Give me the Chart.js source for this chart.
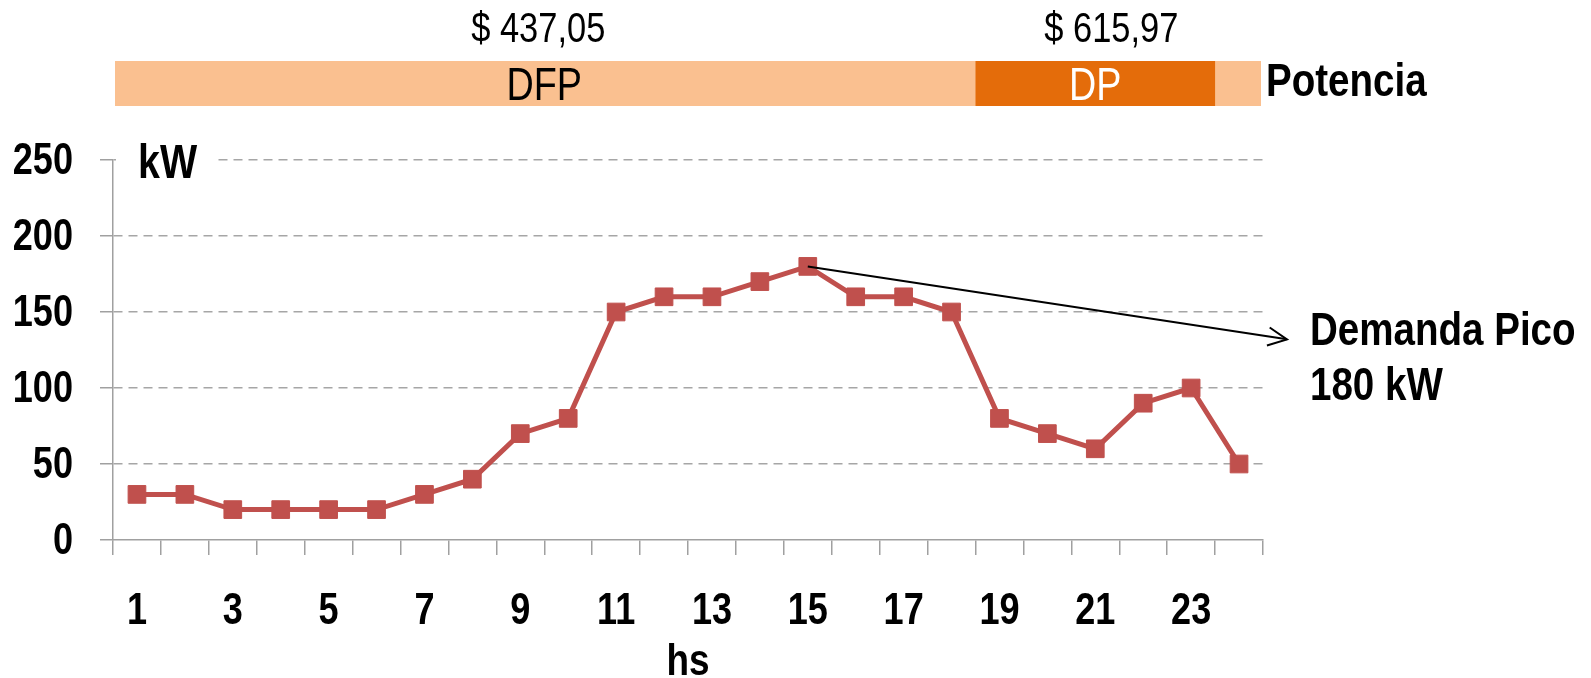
<!DOCTYPE html>
<html>
<head>
<meta charset="utf-8">
<script src="https://cdn.jsdelivr.net/npm/chart.js@4/dist/chart.umd.min.js"></script>
<style>
  html, body { margin: 0; padding: 0; background: #fff; }
  #wrap { width: 1591px; height: 678px; }
</style>
</head>
<body>
<div id="wrap"><canvas id="myChart" width="1591" height="678"></canvas></div>
<script>
// hours of the day and demand in kW
var hours = ['1','2','3','4','5','6','7','8','9','10','11','12','13','14','15','16','17','18','19','20','21','22','23','24'];
var demand = [30, 30, 20, 20, 20, 20, 30, 40, 70, 80, 150, 160, 160, 170, 180, 160, 160, 150, 80, 70, 60, 90, 100, 50];
var yTicks = [0, 50, 100, 150, 200, 250];

// tariff bands on top: off-peak (DFP) and peak (DP)
var bandNames = ['DFP', 'DP'];
var bandPrices = ['$ 437,05', '$ 615,97'];
var peakHours = [19, 23];   // first and last hour of DP
var bandTitle = 'Potencia';
var peakNote = ['Demanda Pico', '180 kW'];

var FONT = '"Liberation Sans", Arial, sans-serif';
var NARROW = 0.82;   // squeeze Liberation Sans to look like Arial Narrow
var RED = '#C0504D';
var LIGHT = '#FAC090';
var DARK = '#E46C0A';
var GRID = '#A6A6A6';
var AXIS = '#A0A0A0';

function narrowText(ctx, text, x, y, align, font, color) {
  ctx.save();
  ctx.font = font;
  ctx.fillStyle = color || '#000';
  ctx.textAlign = align;
  ctx.textBaseline = 'middle';
  ctx.translate(x, y);
  ctx.scale(NARROW, 1);
  ctx.fillText(text, 0, 0);
  ctx.restore();
}

// tick labels, tariff band, kW unit and the peak arrow
var extras = {
  id: 'extras',
  beforeDatasetsDraw: function(chart) {
    var ctx = chart.ctx, area = chart.chartArea;
    var yTop = chart.scales.y.getPixelForValue(250);
    ctx.save();
    ctx.fillStyle = '#fff';
    ctx.fillRect(area.left + 3, yTop - 12, 100, 24);
    ctx.restore();
    narrowText(ctx, 'kW', area.left + 25, yTop + 5, 'left', 'bold 48px ' + FONT);
  },
  afterDraw: function(chart) {
    var ctx = chart.ctx, area = chart.chartArea;
    var x = chart.scales.x, y = chart.scales.y;

    // axis labels
    var tickFont = 'bold 44px ' + FONT;
    yTicks.forEach(function(v) {
      narrowText(ctx, String(v), area.left - 40, y.getPixelForValue(v) + 2, 'right', tickFont);
    });
    hours.forEach(function(h, i) {
      if (i % 2 === 0) narrowText(ctx, h, x.getPixelForValue(i), area.bottom + 72, 'center', tickFont);
    });
    narrowText(ctx, 'hs', (area.left + area.right) / 2, area.bottom + 123, 'center', 'bold 45px ' + FONT);

    // tariff band
    var step = x.getPixelForValue(1) - x.getPixelForValue(0);
    var peakStart = x.getPixelForValue(peakHours[0] - 1) - step / 2;
    var peakEnd = x.getPixelForValue(peakHours[1] - 1) + step / 2;
    var bandTop = 61, bandBottom = 106;
    ctx.save();
    ctx.fillStyle = LIGHT;
    ctx.fillRect(area.left + 2, bandTop, area.right - area.left - 4, bandBottom - bandTop);
    ctx.fillStyle = DARK;
    ctx.fillRect(peakStart, bandTop, peakEnd - peakStart, bandBottom - bandTop);
    ctx.restore();

    var offCenter = (area.left + peakStart) / 2;
    var peakCenter = (peakStart + peakEnd) / 2;
    narrowText(ctx, bandNames[0], offCenter, 87, 'center', '46px ' + FONT);
    narrowText(ctx, bandNames[1], peakCenter, 87, 'center', '46px ' + FONT, '#fff');
    narrowText(ctx, bandPrices[0], offCenter - 6, 30, 'center', '42px ' + FONT);
    narrowText(ctx, bandPrices[1], peakCenter + 16, 30, 'center', '42px ' + FONT);
    narrowText(ctx, bandTitle, area.right + 3, 83, 'left', 'bold 47px ' + FONT);

    // arrow from the peak point to the note
    var maxIdx = demand.indexOf(Math.max.apply(null, demand));
    var px = x.getPixelForValue(maxIdx), py = y.getPixelForValue(demand[maxIdx]);
    var tx = area.right + 24, ty = y.getPixelForValue(132);
    ctx.save();
    ctx.strokeStyle = '#000';
    ctx.lineWidth = 2;
    ctx.beginPath();
    ctx.moveTo(px, py);
    ctx.lineTo(tx, ty);
    ctx.stroke();
    var ang = Math.atan2(ty - py, tx - px);
    ctx.beginPath();
    ctx.moveTo(tx - 21 * Math.cos(ang - 0.45), ty - 21 * Math.sin(ang - 0.45));
    ctx.lineTo(tx, ty);
    ctx.lineTo(tx - 21 * Math.cos(ang + 0.45), ty - 21 * Math.sin(ang + 0.45));
    ctx.stroke();
    ctx.restore();

    narrowText(ctx, peakNote[0], area.right + 47, 332, 'left', 'bold 47px ' + FONT);
    narrowText(ctx, peakNote[1], area.right + 47, 387, 'left', 'bold 47px ' + FONT);
  }
};

var ctx = document.getElementById('myChart');
var myChart = new Chart(ctx, {
  type: 'line',
  data: {
    labels: hours,
    datasets: [
      {
        data: demand,
        label: 'kW',
        borderColor: RED,
        backgroundColor: RED,
        borderWidth: 5,
        pointStyle: 'rect',
        pointRadius: 12.5,
        pointBorderWidth: 1,
        pointBorderColor: RED,
        pointBackgroundColor: RED,
        tension: 0
      }
    ]
  },
  plugins: [extras],
  options: {
    responsive: false,
    animation: false,
    layout: { padding: { top: 160, right: 328, left: 0, bottom: 0 } },
    plugins: { legend: { display: false }, tooltip: { enabled: false } },
    scales: {
      x: {
        offset: true,
        grid: {
          offset: true,
          drawOnChartArea: false,
          drawTicks: true,
          tickLength: 15,
          tickColor: AXIS,
          lineWidth: 1.5
        },
        border: { display: true, color: AXIS, width: 1.5 },
        ticks: { display: false, autoSkip: false },
        afterFit: function(scale) { scale.height = 138; }
      },
      y: {
        min: 0,
        max: 250,
        afterBuildTicks: function(scale) {
          scale.ticks = yTicks.map(function(v) { return { value: v }; });
        },
        grid: {
          color: function(c) { return c.tick && c.tick.value === 0 ? 'rgba(0,0,0,0)' : GRID; },
          lineWidth: 1.5,
          tickLength: 13,
          tickColor: AXIS,
          tickBorderDash: []
        },
        border: { display: true, color: AXIS, width: 1.5, dash: [9, 6] },
        ticks: { display: false },
        afterFit: function(scale) { scale.width = 113; }
      }
    }
  }
});
</script>
</body>
</html>
